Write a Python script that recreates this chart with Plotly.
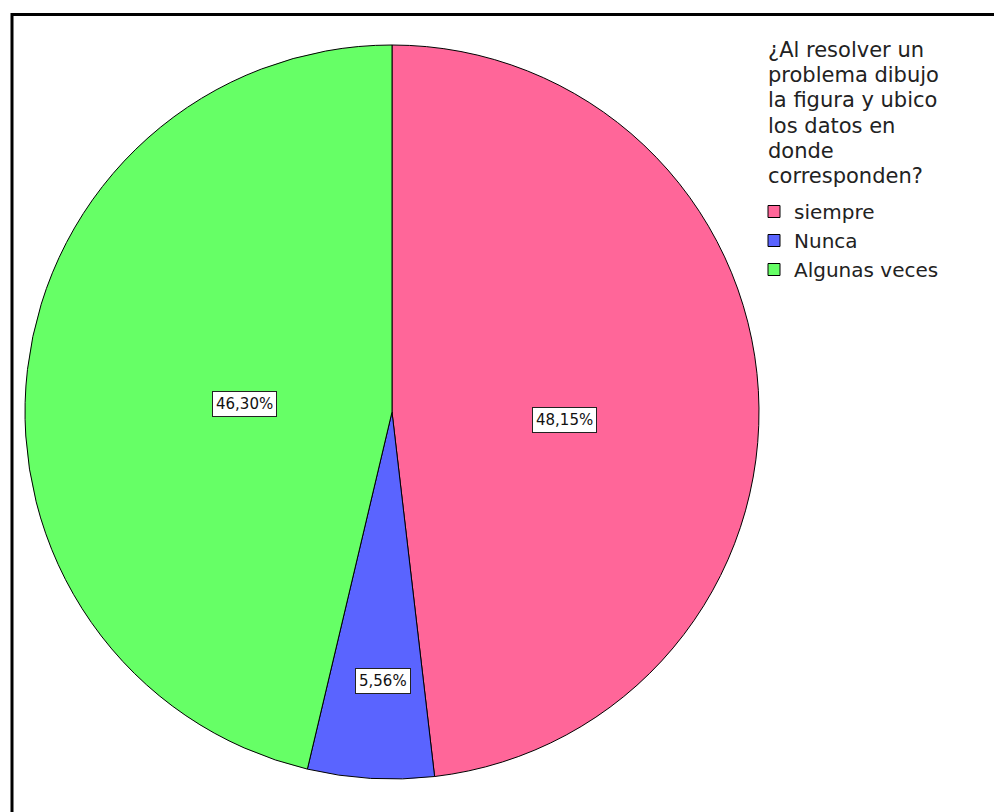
import math
import plotly.graph_objects as go

categorias = ["siempre", "Nunca", "Algunas veces"]
frecuencias = [26, 3, 25]
colores = ["#FF6699", "#5A64FF", "#66FF66"]
titulo_leyenda = ["¿Al resolver un", "problema dibujo", "la figura y ubico",
                  "los datos en", "donde", "corresponden?"]

W, H = 1002, 812
# the page body adds an 8px margin, so shift everything back by that
dx, dy = 8, 7
cx, cy, R = 392 - dx, 411 - dy, 367
# how far out (fraction of radius) each label box sits, plus a small angle nudge (deg)
pos_etiqueta = [0.47, 0.77, 0.49]
ajuste_ang = [6, -1.5, -4]
fuente = "DejaVu Sans, Arial"

fig = go.Figure()
fig.add_trace(go.Pie(
    labels=categorias, values=frecuencias, sort=False, direction="clockwise",
    rotation=0, textinfo="none", hoverinfo="label+percent",
    marker=dict(colors=colores, line=dict(color="black", width=1)),
    domain=dict(x=[(cx - R) / W, (cx + R) / W], y=[1 - (cy + R) / H, 1 - (cy - R) / H]),
))

total = sum(frecuencias)
acum = 0
for v, f, a in zip(frecuencias, pos_etiqueta, ajuste_ang):
    medio = (acum + v / 2) / total * 2 * math.pi + math.radians(a)
    acum += v
    pct = f"{v / total * 100:.2f}".replace(".", ",") + "%"
    fig.add_annotation(
        x=(cx + f * R * math.sin(medio)) / W, y=1 - (cy - f * R * math.cos(medio)) / H,
        xref="paper", yref="paper", text=pct, showarrow=False,
        font=dict(family=fuente, size=15, color="#111"),
        bgcolor="white", bordercolor="#222", borderwidth=1, borderpad=3,
    )

# legend title, one line at a time so the spacing stays tight
for i, linea in enumerate(titulo_leyenda):
    fig.add_annotation(
        x=(766 - dx) / W, y=1 - (49 + 25.2 * i - dy) / H, xref="paper", yref="paper",
        xanchor="left", yanchor="middle", text=linea, showarrow=False,
        font=dict(family=fuente, size=21, color="#222"),
    )

# marco negro del grafico
fig.add_shape(type="rect", xref="paper", yref="paper",
              x0=(12 - dx) / W, x1=1.05, y0=-0.05, y1=1 - (13.5 - dy) / H,
              line=dict(color="black", width=3))

fig.update_layout(
    width=W, height=H, margin=dict(l=0, r=0, t=0, b=0),
    paper_bgcolor="white", plot_bgcolor="white",
    font=dict(family=fuente, color="#222"),
    legend=dict(
        x=(754 - dx) / W, y=1 - (191 - dy) / H, xanchor="left", yanchor="top",
        font=dict(size=20), itemwidth=30, tracegroupgap=0,
        bgcolor="rgba(0,0,0,0)",
    ),
    showlegend=True,
)

fig.write_html("out.html")
